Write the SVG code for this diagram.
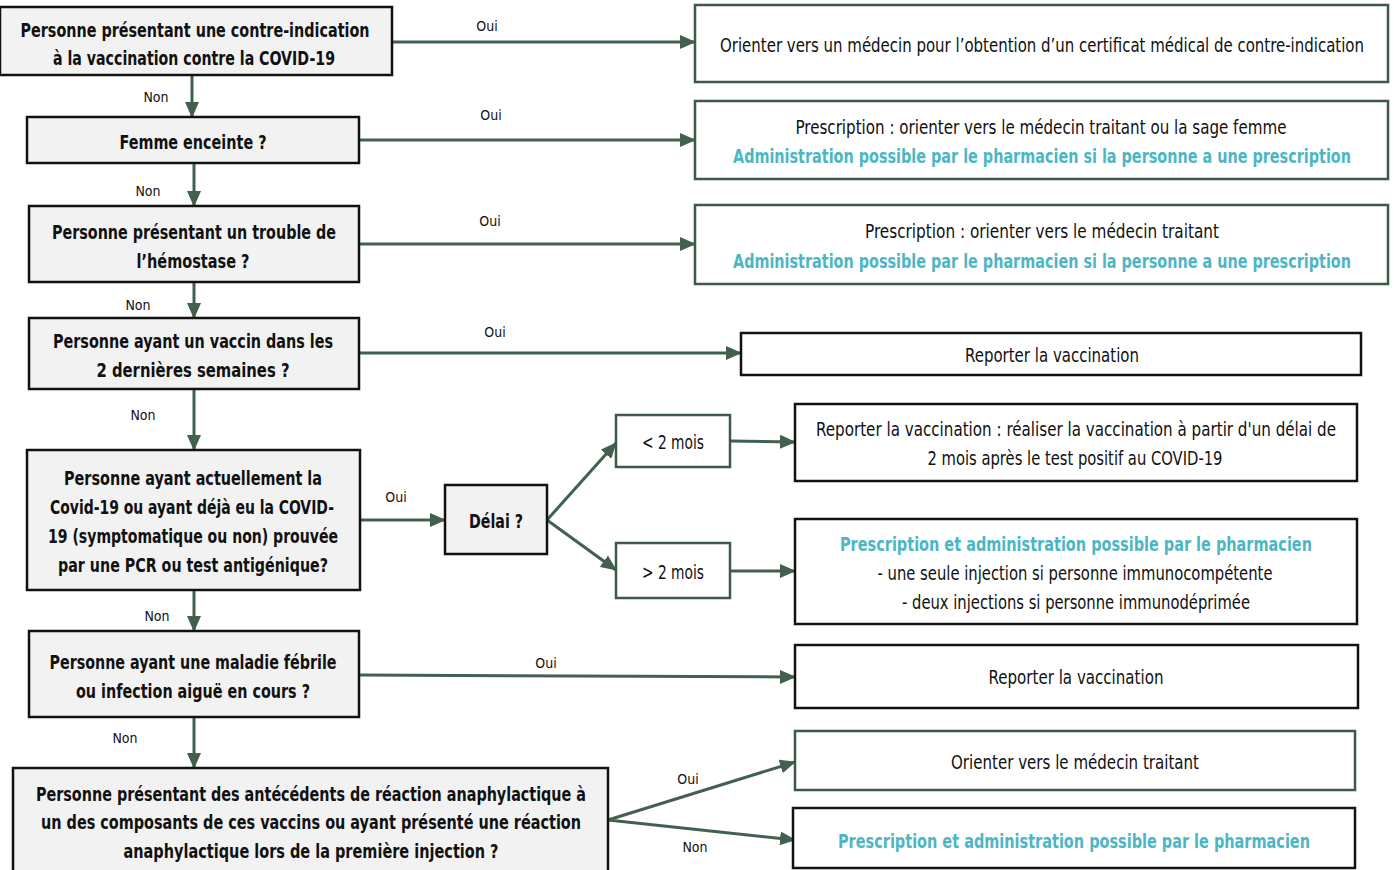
<svg xmlns="http://www.w3.org/2000/svg" width="1394" height="870" viewBox="0 0 1394 870">
<style>
text{font-family:"DejaVu Sans Condensed","DejaVu Sans","Liberation Sans",sans-serif;text-anchor:middle}
.q{fill:#f2f2f2;stroke:#111;stroke-width:2.5}
.g{fill:#fff;stroke:#3c5a47;stroke-width:2.5}
.k{fill:#fff;stroke:#111;stroke-width:2.5}
.b{font-size:20px;font-weight:bold;fill:#111}
.r{font-size:20px;fill:#111}
.c{font-size:20px;font-weight:bold;fill:#4db6c4}
.l{font-size:14px;fill:#111}
.e{stroke:#41604e;stroke-width:3;fill:none;marker-end:url(#ah)}
</style>
<defs>
<marker id="ah" markerUnits="userSpaceOnUse" markerWidth="16" markerHeight="14" refX="15" refY="7" orient="auto">
<path d="M0,0 L16,7 L0,14 Z" fill="#41604e"/>
</marker>
</defs>
<rect width="1394" height="870" fill="#fff"/>
<g id="connectors">
<line class="e" x1="392" y1="42" x2="695" y2="42"/>
<line class="e" x1="192" y1="75" x2="192" y2="117"/>
<line class="e" x1="359" y1="140" x2="695" y2="140"/>
<line class="e" x1="194" y1="163" x2="194" y2="206"/>
<line class="e" x1="359" y1="244" x2="695" y2="244"/>
<line class="e" x1="194" y1="282" x2="194" y2="318"/>
<line class="e" x1="359" y1="353" x2="741" y2="353"/>
<line class="e" x1="194" y1="389" x2="194" y2="450"/>
<line class="e" x1="360" y1="520" x2="445" y2="520"/>
<line class="e" x1="547" y1="520" x2="616" y2="443"/>
<line class="e" x1="547" y1="520" x2="616" y2="570"/>
<line class="e" x1="730" y1="441" x2="795" y2="442"/>
<line class="e" x1="730" y1="571" x2="795" y2="571"/>
<line class="e" x1="194" y1="590" x2="194" y2="631"/>
<line class="e" x1="359" y1="675" x2="795" y2="677"/>
<line class="e" x1="194" y1="717" x2="194" y2="768"/>
<line class="e" x1="608" y1="820" x2="795" y2="762"/>
<line class="e" x1="608" y1="820" x2="795" y2="840"/>
<text class="l" x="487" y="31">Oui</text>
<text class="l" x="156" y="102">Non</text>
<text class="l" x="491" y="120">Oui</text>
<text class="l" x="148" y="196">Non</text>
<text class="l" x="490" y="226">Oui</text>
<text class="l" x="138" y="310">Non</text>
<text class="l" x="495" y="337">Oui</text>
<text class="l" x="143" y="420">Non</text>
<text class="l" x="396" y="502">Oui</text>
<text class="l" x="157" y="621">Non</text>
<text class="l" x="546" y="668">Oui</text>
<text class="l" x="125" y="743">Non</text>
<text class="l" x="688" y="784">Oui</text>
<text class="l" x="695" y="852">Non</text>
</g>
<g id="q1"><rect class="q" x="0" y="7" width="392" height="68"/>
<text class="b" x="195" y="37" textLength="349" lengthAdjust="spacingAndGlyphs">Personne présentant une contre-indication</text>
<text class="b" x="194" y="65" textLength="282" lengthAdjust="spacingAndGlyphs">à la vaccination contre la COVID-19</text></g>
<g id="q2"><rect class="q" x="27" y="117" width="332" height="46"/>
<text class="b" x="193" y="149" textLength="147" lengthAdjust="spacingAndGlyphs">Femme enceinte ?</text></g>
<g id="q3"><rect class="q" x="29" y="206" width="330" height="76"/>
<text class="b" x="194" y="239" textLength="284" lengthAdjust="spacingAndGlyphs">Personne présentant un trouble de</text>
<text class="b" x="193" y="268" textLength="113" lengthAdjust="spacingAndGlyphs">l’hémostase ?</text></g>
<g id="q4"><rect class="q" x="29" y="318" width="330" height="71"/>
<text class="b" x="193" y="348" textLength="280" lengthAdjust="spacingAndGlyphs">Personne ayant un vaccin dans les</text>
<text class="b" x="193" y="377" textLength="193" lengthAdjust="spacingAndGlyphs">2 dernières semaines ?</text></g>
<g id="q5"><rect class="q" x="27" y="450" width="333" height="140"/>
<text class="b" x="193" y="485" textLength="258" lengthAdjust="spacingAndGlyphs">Personne ayant actuellement la</text>
<text class="b" x="192" y="514" textLength="284" lengthAdjust="spacingAndGlyphs">Covid-19 ou ayant déjà eu la COVID-</text>
<text class="b" x="193" y="543" textLength="290" lengthAdjust="spacingAndGlyphs">19 (symptomatique  ou non) prouvée</text>
<text class="b" x="193" y="572" textLength="270" lengthAdjust="spacingAndGlyphs">par une PCR ou test antigénique?</text></g>
<g id="q6"><rect class="q" x="29" y="631" width="330" height="86"/>
<text class="b" x="193" y="669" textLength="287" lengthAdjust="spacingAndGlyphs">Personne ayant une maladie fébrile</text>
<text class="b" x="193" y="698" textLength="234" lengthAdjust="spacingAndGlyphs">ou infection aiguë en cours ?</text></g>
<g id="q7"><rect class="q" x="13" y="768" width="595" height="110"/>
<text class="b" x="311" y="801" textLength="550" lengthAdjust="spacingAndGlyphs">Personne présentant des antécédents de réaction anaphylactique à</text>
<text class="b" x="311" y="829" textLength="540" lengthAdjust="spacingAndGlyphs">un des composants de ces vaccins ou ayant présenté une réaction</text>
<text class="b" x="311" y="858" textLength="375" lengthAdjust="spacingAndGlyphs">anaphylactique lors de la première injection ?</text></g>
<g id="delai"><rect class="q" x="445" y="485" width="102" height="69"/>
<text class="b" x="496" y="528" textLength="54" lengthAdjust="spacingAndGlyphs">Délai ?</text></g>
<g id="moins2"><rect class="g" x="616" y="415" width="114" height="52"/>
<text class="r" x="673" y="449" textLength="62" lengthAdjust="spacingAndGlyphs">&lt; 2 mois</text></g>
<g id="plus2"><rect class="g" x="616" y="543" width="114" height="55"/>
<text class="r" x="673" y="579" textLength="62" lengthAdjust="spacingAndGlyphs">&gt; 2 mois</text></g>
<g id="r1"><rect class="g" x="695" y="5" width="693" height="77"/>
<text class="r" x="1042" y="52" textLength="644" lengthAdjust="spacingAndGlyphs">Orienter vers un médecin pour l’obtention d’un certificat médical de contre-indication</text></g>
<g id="r2"><rect class="g" x="695" y="101" width="693" height="78"/>
<text class="r" x="1041" y="134" textLength="491" lengthAdjust="spacingAndGlyphs">Prescription : orienter vers le médecin traitant ou la sage femme</text>
<text class="c" x="1042" y="163" textLength="618" lengthAdjust="spacingAndGlyphs">Administration  possible par le pharmacien si la personne a une prescription</text></g>
<g id="r3"><rect class="g" x="695" y="205" width="693" height="79"/>
<text class="r" x="1042" y="238" textLength="354" lengthAdjust="spacingAndGlyphs">Prescription : orienter vers le médecin traitant</text>
<text class="c" x="1042" y="268" textLength="618" lengthAdjust="spacingAndGlyphs">Administration  possible par le pharmacien si la personne a une prescription</text></g>
<g id="r4"><rect class="k" x="741" y="333" width="620" height="42"/>
<text class="r" x="1052" y="362" textLength="174" lengthAdjust="spacingAndGlyphs">Reporter la vaccination</text></g>
<g id="r5"><rect class="k" x="795" y="404" width="562" height="77"/>
<text class="r" x="1076" y="436" textLength="520" lengthAdjust="spacingAndGlyphs">Reporter la vaccination : réaliser la vaccination à partir d'un délai de</text>
<text class="r" x="1075" y="465" textLength="295" lengthAdjust="spacingAndGlyphs">2 mois après le test positif au COVID-19</text></g>
<g id="r6"><rect class="k" x="795" y="519" width="562" height="105"/>
<text class="c" x="1076" y="551" textLength="472" lengthAdjust="spacingAndGlyphs">Prescription et administration possible par le pharmacien</text>
<text class="r" x="1075" y="580" textLength="395" lengthAdjust="spacingAndGlyphs">- une seule injection si personne immunocompétente</text>
<text class="r" x="1076" y="609" textLength="348" lengthAdjust="spacingAndGlyphs">- deux injections si personne immunodéprimée</text></g>
<g id="r7"><rect class="k" x="795" y="645" width="563" height="63"/>
<text class="r" x="1076" y="684" textLength="175" lengthAdjust="spacingAndGlyphs">Reporter la vaccination</text></g>
<g id="r8"><rect class="g" x="795" y="731" width="560" height="59"/>
<text class="r" x="1075" y="769" textLength="248" lengthAdjust="spacingAndGlyphs">Orienter vers le médecin traitant</text></g>
<g id="r9"><rect class="k" x="793" y="808" width="562" height="60"/>
<text class="c" x="1074" y="848" textLength="472" lengthAdjust="spacingAndGlyphs">Prescription et administration possible par le pharmacien</text></g>
</svg>
